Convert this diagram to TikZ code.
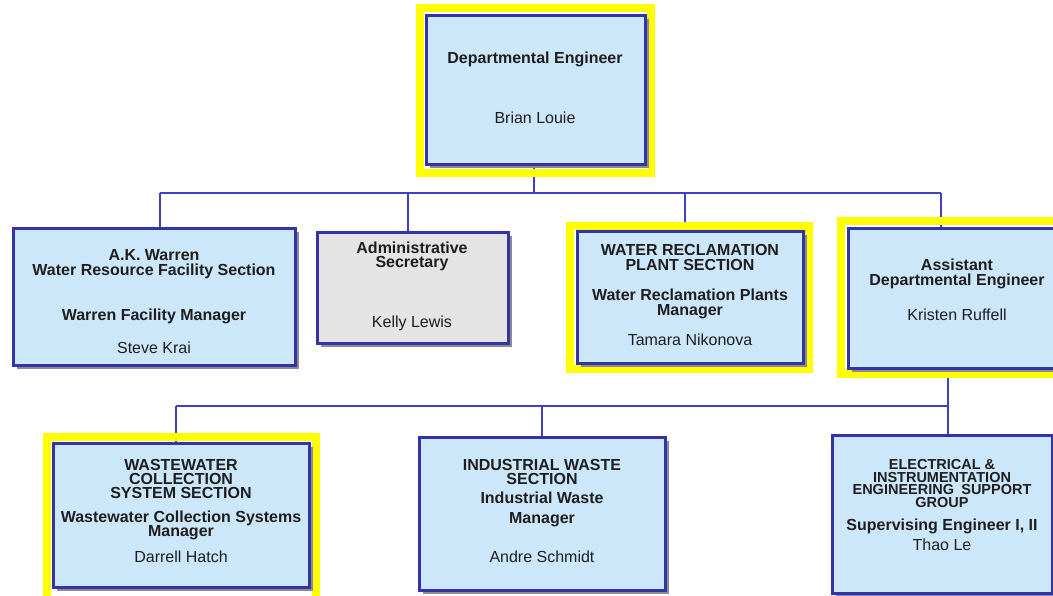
\documentclass[tikz,border=0pt]{standalone}
\usepackage{fontspec}
\setmainfont{Liberation Sans}
\usetikzlibrary{shadows}
\definecolor{boxfill}{HTML}{CCE7FA}
\definecolor{boxline}{HTML}{3434A8}
\definecolor{connline}{HTML}{4040C0}
\definecolor{grayfill}{HTML}{E4E4E4}
\definecolor{hlyellow}{HTML}{FFFF00}
\definecolor{txtcol}{HTML}{1E1E1E}
\tikzset{
  orgbox/.style={draw=boxline, line width=3pt, fill=boxfill, rectangle, inner sep=0pt,
    drop shadow={shadow xshift=3.5pt, shadow yshift=-3.5pt, fill=black!45, opacity=1}},
  graybox/.style={orgbox, fill=grayfill},
  conn/.style={draw=connline, line width=2pt},
  hl/.style={draw=hlyellow, line width=8pt},
  txt/.style={align=center, inner sep=0pt, text=txtcol, font=\fontsize{16}{15}\selectfont},
  smalltxt/.style={txt, font=\fontsize{14.5}{12.5}\selectfont}
}
\begin{document}
\begin{tikzpicture}[x=1pt,y=-1pt]
\clip (0,0) rectangle (1053,595);
\fill[white] (0,0) rectangle (1053,595);

% box positions
\path (535.5,89.5) node[minimum width=219pt, minimum height=149pt, inner sep=0pt] (topP) {};
\path (154,296.5) node[minimum width=282pt, minimum height=137pt, inner sep=0pt] (warrenP) {};
\path (412.5,287.5) node[minimum width=191pt, minimum height=111pt, inner sep=0pt] (adminP) {};
\path (690,297) node[minimum width=226pt, minimum height=132pt, inner sep=0pt] (wrpP) {};
\path (957,298) node[minimum width=218pt, minimum height=140pt, inner sep=0pt] (asstP) {};
\path (181,515) node[minimum width=256pt, minimum height=144pt, inner sep=0pt] (wwP) {};
\path (542,513.5) node[minimum width=246pt, minimum height=153pt, inner sep=0pt] (indP) {};
\path (942,514) node[minimum width=220pt, minimum height=158pt, inner sep=0pt] (elecP) {};

% connector coordinates
\coordinate (busA) at (534,193);
\coordinate (busW) at (160,193);
\coordinate (busS) at (408,193);
\coordinate (busR) at (685,193);
\coordinate (busE) at (941,193);
\coordinate (busB) at (948,406);
\coordinate (busWW) at (176,406);
\coordinate (busI) at (542,406);

% connectors
\draw[conn] (topP.south -| busA) -- (busA);
\draw[conn] (busW) -- (busE);
\draw[conn] (busW) -- (busW |- warrenP.north);
\draw[conn] (busS) -- (busS |- adminP.north);
\draw[conn] (busR) -- (busR |- wrpP.north);
\draw[conn] (busE) -- (busE |- asstP.north);
\draw[conn] (busB |- asstP.south) -- (busB |- elecP.north);
\draw[conn] (busWW) -- (busB);
\draw[conn] (busWW) -- (busWW |- wwP.north);
\draw[conn] (busI) -- (busI |- indP.north);

% yellow highlight frames
\draw[hl] (420,8) rectangle (651,173);
\draw[hl] (570,226) rectangle (809,369);
\draw[hl] (841,221) rectangle (1070,374);
\draw[hl] (47,437) rectangle (316,600);

% boxes
\node[orgbox, minimum width=219pt, minimum height=149pt] (top) at (topP) {};
\node[orgbox, minimum width=282pt, minimum height=137pt] (warren) at (warrenP) {};
\node[graybox, minimum width=191pt, minimum height=111pt] (admin) at (adminP) {};
\node[orgbox, minimum width=226pt, minimum height=132pt] (wrp) at (wrpP) {};
\node[orgbox, minimum width=218pt, minimum height=140pt] (asst) at (asstP) {};
\node[orgbox, minimum width=256pt, minimum height=144pt] (ww) at (wwP) {};
\node[orgbox, minimum width=246pt, minimum height=153pt] (ind) at (indP) {};
\node[orgbox, minimum width=220pt, minimum height=158pt] (elec) at (elecP) {};

% texts
\node[txt] (topT) at (535,88) {\textbf{Departmental Engineer}\\[45pt]Brian Louie};
\node[txt] (warrenT) at (154,301.5) {\textbf{A.K. Warren}\\\textbf{Water Resource Facility Section}\\[30pt]\textbf{Warren Facility Manager}\\[18pt]Steve Krai};
\node[txt] (adminT) at (412,286) {\textbf{Administrative}\\[-1pt]\textbf{Secretary}\\[45pt]Kelly Lewis};
\node[txt] (wrpT) at (690,295) {\textbf{WATER RECLAMATION}\\\textbf{PLANT SECTION}\\[15pt]\textbf{Water Reclamation Plants}\\\textbf{Manager}\\[15pt]Tamara Nikonova};
\node[txt] (asstT) at (957,290) {\textbf{Assistant}\\\textbf{Departmental Engineer}\\[20pt]Kristen Ruffell};
\node[txt] (wwT) at (181,511) {\textbf{WASTEWATER}\\[-1pt]\textbf{COLLECTION}\\[-1pt]\textbf{SYSTEM SECTION}\\[9pt]\textbf{Wastewater Collection Systems}\\[-1pt]\textbf{Manager}\\[11pt]Darrell Hatch};
\node[txt] (indT) at (542,511) {\textbf{INDUSTRIAL WASTE}\\[-1pt]\textbf{SECTION}\\[4pt]\textbf{Industrial Waste}\\[5pt]\textbf{Manager}\\[24pt]Andre Schmidt};
\node[smalltxt] (elecTitle) at (942,483.75) {\textbf{ELECTRICAL \&}\\\textbf{INSTRUMENTATION}\\\textbf{ENGINEERING\enspace SUPPORT}\\\textbf{GROUP}};
\node[txt] (elecT) at (942,535) {\textbf{Supervising Engineer I, II}\\[5pt]Thao Le};
\end{tikzpicture}
\end{document}
